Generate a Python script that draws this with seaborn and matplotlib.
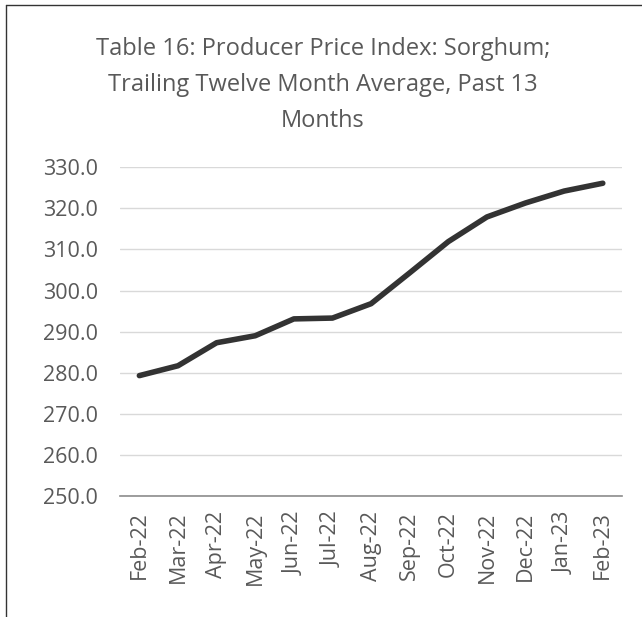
import matplotlib
matplotlib.use("Agg")
import matplotlib.pyplot as plt
import seaborn as sns
import pandas as pd

months = ["Feb-22", "Mar-22", "Apr-22", "May-22", "Jun-22", "Jul-22", "Aug-22",
          "Sep-22", "Oct-22", "Nov-22", "Dec-22", "Jan-23", "Feb-23"]
ppi = [279.3, 281.7, 287.3, 289.0, 293.1, 293.3, 296.8,
       304.3, 311.9, 317.9, 321.3, 324.2, 326.1]

df = pd.DataFrame({"month": months, "ppi": ppi})

sns.set_style("white")
plt.rcParams["font.family"] = ["Open Sans", "DejaVu Sans"]

fig = plt.figure(figsize=(6.42, 6.17), dpi=100)
ax = fig.add_axes([0.187, 0.196, 0.782, 0.533])

sns.lineplot(data=df, x="month", y="ppi", ax=ax, color="#333333",
             linewidth=4, solid_capstyle="round", sort=False)

ax.set_ylim(250, 330)
ax.set_yticks(range(250, 331, 10))
ax.set_yticklabels([f"{v:.1f}" for v in range(250, 331, 10)])
ax.set_xlim(-0.5, len(months) - 0.5)
ax.grid(axis="y", color="#d9d9d9", linewidth=1)
ax.set_axisbelow(True)
for s in ["top", "right", "left"]:
    ax.spines[s].set_visible(False)
ax.spines["bottom"].set_color("#8c8c8c")
ax.spines["bottom"].set_linewidth(1.2)
ax.tick_params(axis="x", rotation=90, labelsize=15.5, labelcolor="#595959", length=0, pad=11)
ax.tick_params(axis="y", labelsize=15.5, labelcolor="#595959", length=0, pad=16)
ax.set_xlabel("")
ax.set_ylabel("")

fig.text(0.503, 0.862, "Table 16: Producer Price Index: Sorghum;\nTrailing Twelve Month Average, Past 13\nMonths",
         ha="center", va="center", fontsize=17, color="#595959", linespacing=1.65)

# chart frame (left and top edges visible)
fig.add_artist(plt.Line2D([0.009, 0.009], [0, 0.992], color="#333333", linewidth=1, transform=fig.transFigure))
fig.add_artist(plt.Line2D([0.009, 1], [0.992, 0.992], color="#333333", linewidth=1, transform=fig.transFigure))

fig.savefig("out.png", dpi=100)
